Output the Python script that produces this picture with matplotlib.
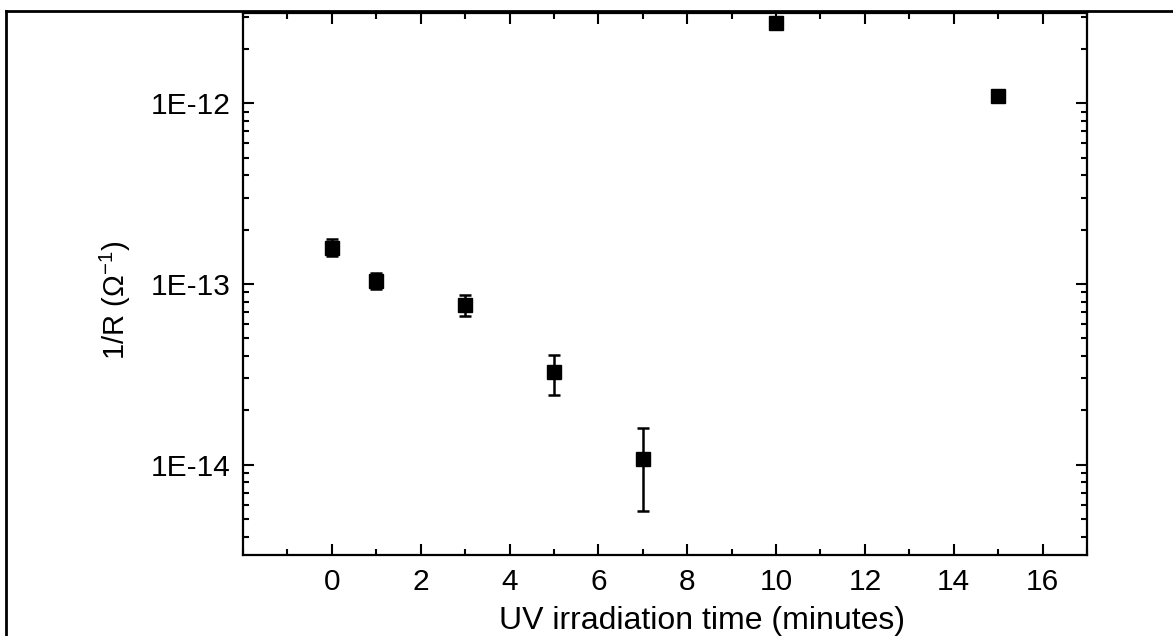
import numpy as np
import matplotlib
matplotlib.use("Agg")
import matplotlib.pyplot as plt
from matplotlib.ticker import FixedLocator, LogLocator, FuncFormatter, NullFormatter, MultipleLocator
from matplotlib.lines import Line2D

plt.rcParams['font.family'] = ['Liberation Sans', 'DejaVu Sans']
plt.rcParams['mathtext.fontset'] = 'custom'
plt.rcParams['mathtext.rm'] = 'Liberation Sans'
plt.rcParams['mathtext.it'] = 'Liberation Sans:italic'

# data
time_min = [0, 1, 3, 5, 7, 10, 15]
inv_R = [1.59e-13, 1.04e-13, 7.66e-14, 3.26e-14, 1.08e-14, 2.77e-12, 1.10e-12]
err_low = [1.43e-13, 0.94e-13, 6.64e-14, 2.44e-14, 5.55e-15, 2.77e-12, 1.10e-12]
err_high = [1.77e-13, 1.15e-13, 8.7e-14, 4.03e-14, 1.60e-14, 2.77e-12, 1.10e-12]
x_ticks = [0, 2, 4, 6, 8, 10, 12, 14, 16]
y_ticks = [1e-14, 1e-13, 1e-12]

fig = plt.figure(figsize=(11.73, 6.36), dpi=100)
ax = fig.add_axes([243/1173, 1-555/636, (1087-243)/1173, (555-13)/636])

y = np.array(inv_R)
yerr = np.vstack([y - np.array(err_low), np.array(err_high) - y])
ax.errorbar(time_min, inv_R, yerr=yerr, fmt='s', color='black', ecolor='black',
            markersize=10, elinewidth=1.8, capsize=4.5, capthick=1.8, zorder=3)

ax.set_yscale('log')
ax.set_xlim(-2, 17)
ax.set_ylim(10**-14.5, 10**-11.5)

ax.xaxis.set_major_locator(FixedLocator(x_ticks))
ax.xaxis.set_minor_locator(MultipleLocator(1))
ax.yaxis.set_major_locator(FixedLocator(y_ticks))
ax.yaxis.set_minor_locator(LogLocator(base=10, subs=np.arange(2, 10)))
ax.yaxis.set_minor_formatter(NullFormatter())

def efmt(v, pos):
    e = int(round(np.log10(v)))
    return "1E%d" % e
ax.yaxis.set_major_formatter(FuncFormatter(efmt))

ax.tick_params(which='both', direction='in', top=True, right=True, width=1.5, labelsize=21.5)
ax.tick_params(which='major', length=8)
ax.tick_params(which='minor', length=4.5)
ax.tick_params(axis='x', which='major', pad=9)
ax.tick_params(axis='y', which='major', pad=9)
for s in ax.spines.values():
    s.set_linewidth(1.6)

ax.set_xlabel('UV irradiation time (minutes)', fontsize=23, va='baseline')
ax.xaxis.set_label_coords(702/1173, 1-629/636, transform=fig.transFigure)
ax.set_ylabel('1/R (Ω$^{-1}$)', fontsize=21)
ax.yaxis.set_label_coords(-0.13, 0.47)

# partial figure frame (top and left edges)
fig.add_artist(Line2D([6/1173, 6/1173], [0, 1-11/636], transform=fig.transFigure, color='black', lw=2))
fig.add_artist(Line2D([6/1173, 1], [1-11/636, 1-11/636], transform=fig.transFigure, color='black', lw=2))

fig.savefig('out.png', dpi=100)
